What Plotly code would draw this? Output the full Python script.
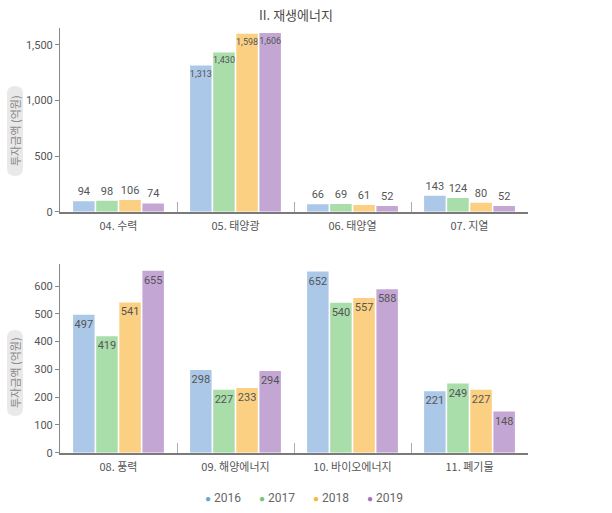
import plotly.graph_objects as go

years = ["2016", "2017", "2018", "2019"]
top_categories = ["04. 수력", "05. 태양광", "06. 태양열", "07. 지열"]
top_values = {
    "2016": [94, 1313, 66, 143],
    "2017": [98, 1430, 69, 124],
    "2018": [106, 1598, 61, 80],
    "2019": [74, 1606, 52, 52],
}
bottom_categories = ["08. 풍력", "09. 해양에너지", "10. 바이오에너지", "11. 폐기물"]
bottom_values = {
    "2016": [497, 298, 652, 221],
    "2017": [419, 227, 540, 249],
    "2018": [541, 233, 557, 227],
    "2019": [655, 294, 588, 148],
}
title_text = "II. 재생에너지"
y_title = "투자금액 (억원)"

bar_colors = {"2016": "#abc8e8", "2017": "#a9ddaa", "2018": "#fcd082", "2019": "#c3a6d4"}
dot_colors = {"2016": "#6ba3d8", "2017": "#74c676", "2018": "#f8b73a", "2019": "#a272bd"}
label_family = "Liberation Sans Narrow, Arial Narrow, Roboto, sans-serif"
label_color = "#555555"
tick_font = dict(family="Roboto, Arial, sans-serif", size=11, color="#555555")

fig = go.Figure()

for y in years:
    vals = top_values[y]
    fig.add_trace(go.Bar(
        x=top_categories, y=vals, xaxis="x", yaxis="y",
        marker=dict(color=bar_colors[y], line=dict(width=0)),
        texttemplate="%{y:,}",
        textposition=["inside" if v > 1000 else "outside" for v in vals],
        insidetextanchor="end", constraintext="none",
        textfont=dict(family=label_family, color=label_color,
                      size=[9 if v > 1000 else 11 for v in vals]),
        textangle=0, cliponaxis=False,
        showlegend=False, hoverinfo="x+y", name=y,
    ))
for y in years:
    vals = bottom_values[y]
    fig.add_trace(go.Bar(
        x=bottom_categories, y=vals, xaxis="x2", yaxis="y2",
        marker=dict(color=bar_colors[y], line=dict(width=0)),
        texttemplate="%{y:,}",
        textposition="inside",
        insidetextanchor="end", constraintext="none",
        textfont=dict(family=label_family, color=label_color, size=11),
        textangle=0,
        showlegend=False, hoverinfo="x+y", name=y,
    ))
# legend entries: coloured dot glyph right next to the year
for y in years:
    fig.add_trace(go.Scatter(
        x=[None], y=[None], mode="markers",
        name=f"<span style='color:{dot_colors[y]};font-size:10px'>●</span> {y}",
        marker=dict(color="rgba(0,0,0,0)", size=1),
        xaxis="x", yaxis="y", showlegend=True, hoverinfo="skip",
    ))
# blank spacer entry so the last legend label is not clipped
fig.add_trace(go.Scatter(
    x=[None], y=[None], mode="markers", name=" ",
    marker=dict(color="rgba(0,0,0,0)", size=1),
    xaxis="x", yaxis="y", showlegend=True, hoverinfo="skip",
))

xdom = [60 / 612, 528 / 612]
axis_common_x = dict(
    type="category", showline=True, linecolor="#7a7a7a", linewidth=2,
    ticks="inside", tickson="boundaries", ticklen=10, tickcolor="#aaaaaa", tickwidth=1,
    tickfont=dict(family="Noto Sans CJK KR, sans-serif", size=11, color="#555555"),
    ticklabelstandoff=3,
    showgrid=False, zeroline=False, fixedrange=True, automargin=False,
)
axis_common_y = dict(
    showline=True, linecolor="#888888", linewidth=1,
    ticks="outside", ticklen=4, tickcolor="#888888",
    tickfont=tick_font, tickformat=",d", showgrid=False, zeroline=False, automargin=False,
)

fig.update_layout(
    width=612, height=513,
    margin=dict(l=0, r=0, t=0, b=0, autoexpand=False),
    paper_bgcolor="white", plot_bgcolor="white",
    barmode="group", bargap=0.21, bargroupgap=0.07,
    xaxis=dict(domain=xdom, anchor="y", **axis_common_x),
    yaxis=dict(domain=[1 - 211.7 / 513, 1 - 28 / 513], anchor="x", range=[0, 1650],
               tickvals=[0, 500, 1000, 1500], **axis_common_y),
    xaxis2=dict(domain=xdom, anchor="y2", **axis_common_x),
    yaxis2=dict(domain=[1 - 452.7 / 513, 1 - 263.8 / 513], anchor="x2", range=[0, 680],
                tickvals=[0, 100, 200, 300, 400, 500, 600], **axis_common_y),
    legend=dict(orientation="h", x=165 / 612, xanchor="left", y=1 - 497 / 513, yanchor="middle",
                font=dict(family="Roboto, Arial, sans-serif", size=12, color="#666666"),
                itemwidth=30, entrywidth=9, traceorder="normal", bgcolor="rgba(0,0,0,0)",
                itemclick=False, itemdoubleclick=False),
    showlegend=True,
)

fig.add_annotation(text=title_text, xref="paper", yref="paper",
                   x=296 / 612, y=1 - 14 / 513, xanchor="center", yanchor="middle", showarrow=False,
                   font=dict(family="Noto Sans CJK KR, sans-serif", size=13, color="#4a4a4a"))

# y-axis title pills
def pill(x0, x1, ytop, ybot):
    X0, X1 = x0 / 612, x1 / 612
    Yt, Yb = 1 - ytop / 513, 1 - ybot / 513
    r = (x1 - x0) / 2
    ry = r / 513
    xm = (X0 + X1) / 2
    path = (f"M {X0},{Yt - ry} Q {X0},{Yt} {xm},{Yt} Q {X1},{Yt} {X1},{Yt - ry} "
            f"L {X1},{Yb + ry} Q {X1},{Yb} {xm},{Yb} Q {X0},{Yb} {X0},{Yb + ry} Z")
    fig.add_shape(type="path", path=path, xref="paper", yref="paper",
                  fillcolor="#e9e9e9", line=dict(width=0), layer="below")
    fig.add_annotation(text=y_title, xref="paper", yref="paper",
                       x=xm, y=(Yt + Yb) / 2, xanchor="center", yanchor="middle",
                       showarrow=False, textangle=-90,
                       font=dict(family="Noto Sans CJK KR, sans-serif", size=11, color="#888888"))

pill(7, 23, 86, 176)
pill(7, 23, 330, 416)

fig.write_html("out.html", post_script="document.body.style.margin='0';",
               config={"displayModeBar": False})
